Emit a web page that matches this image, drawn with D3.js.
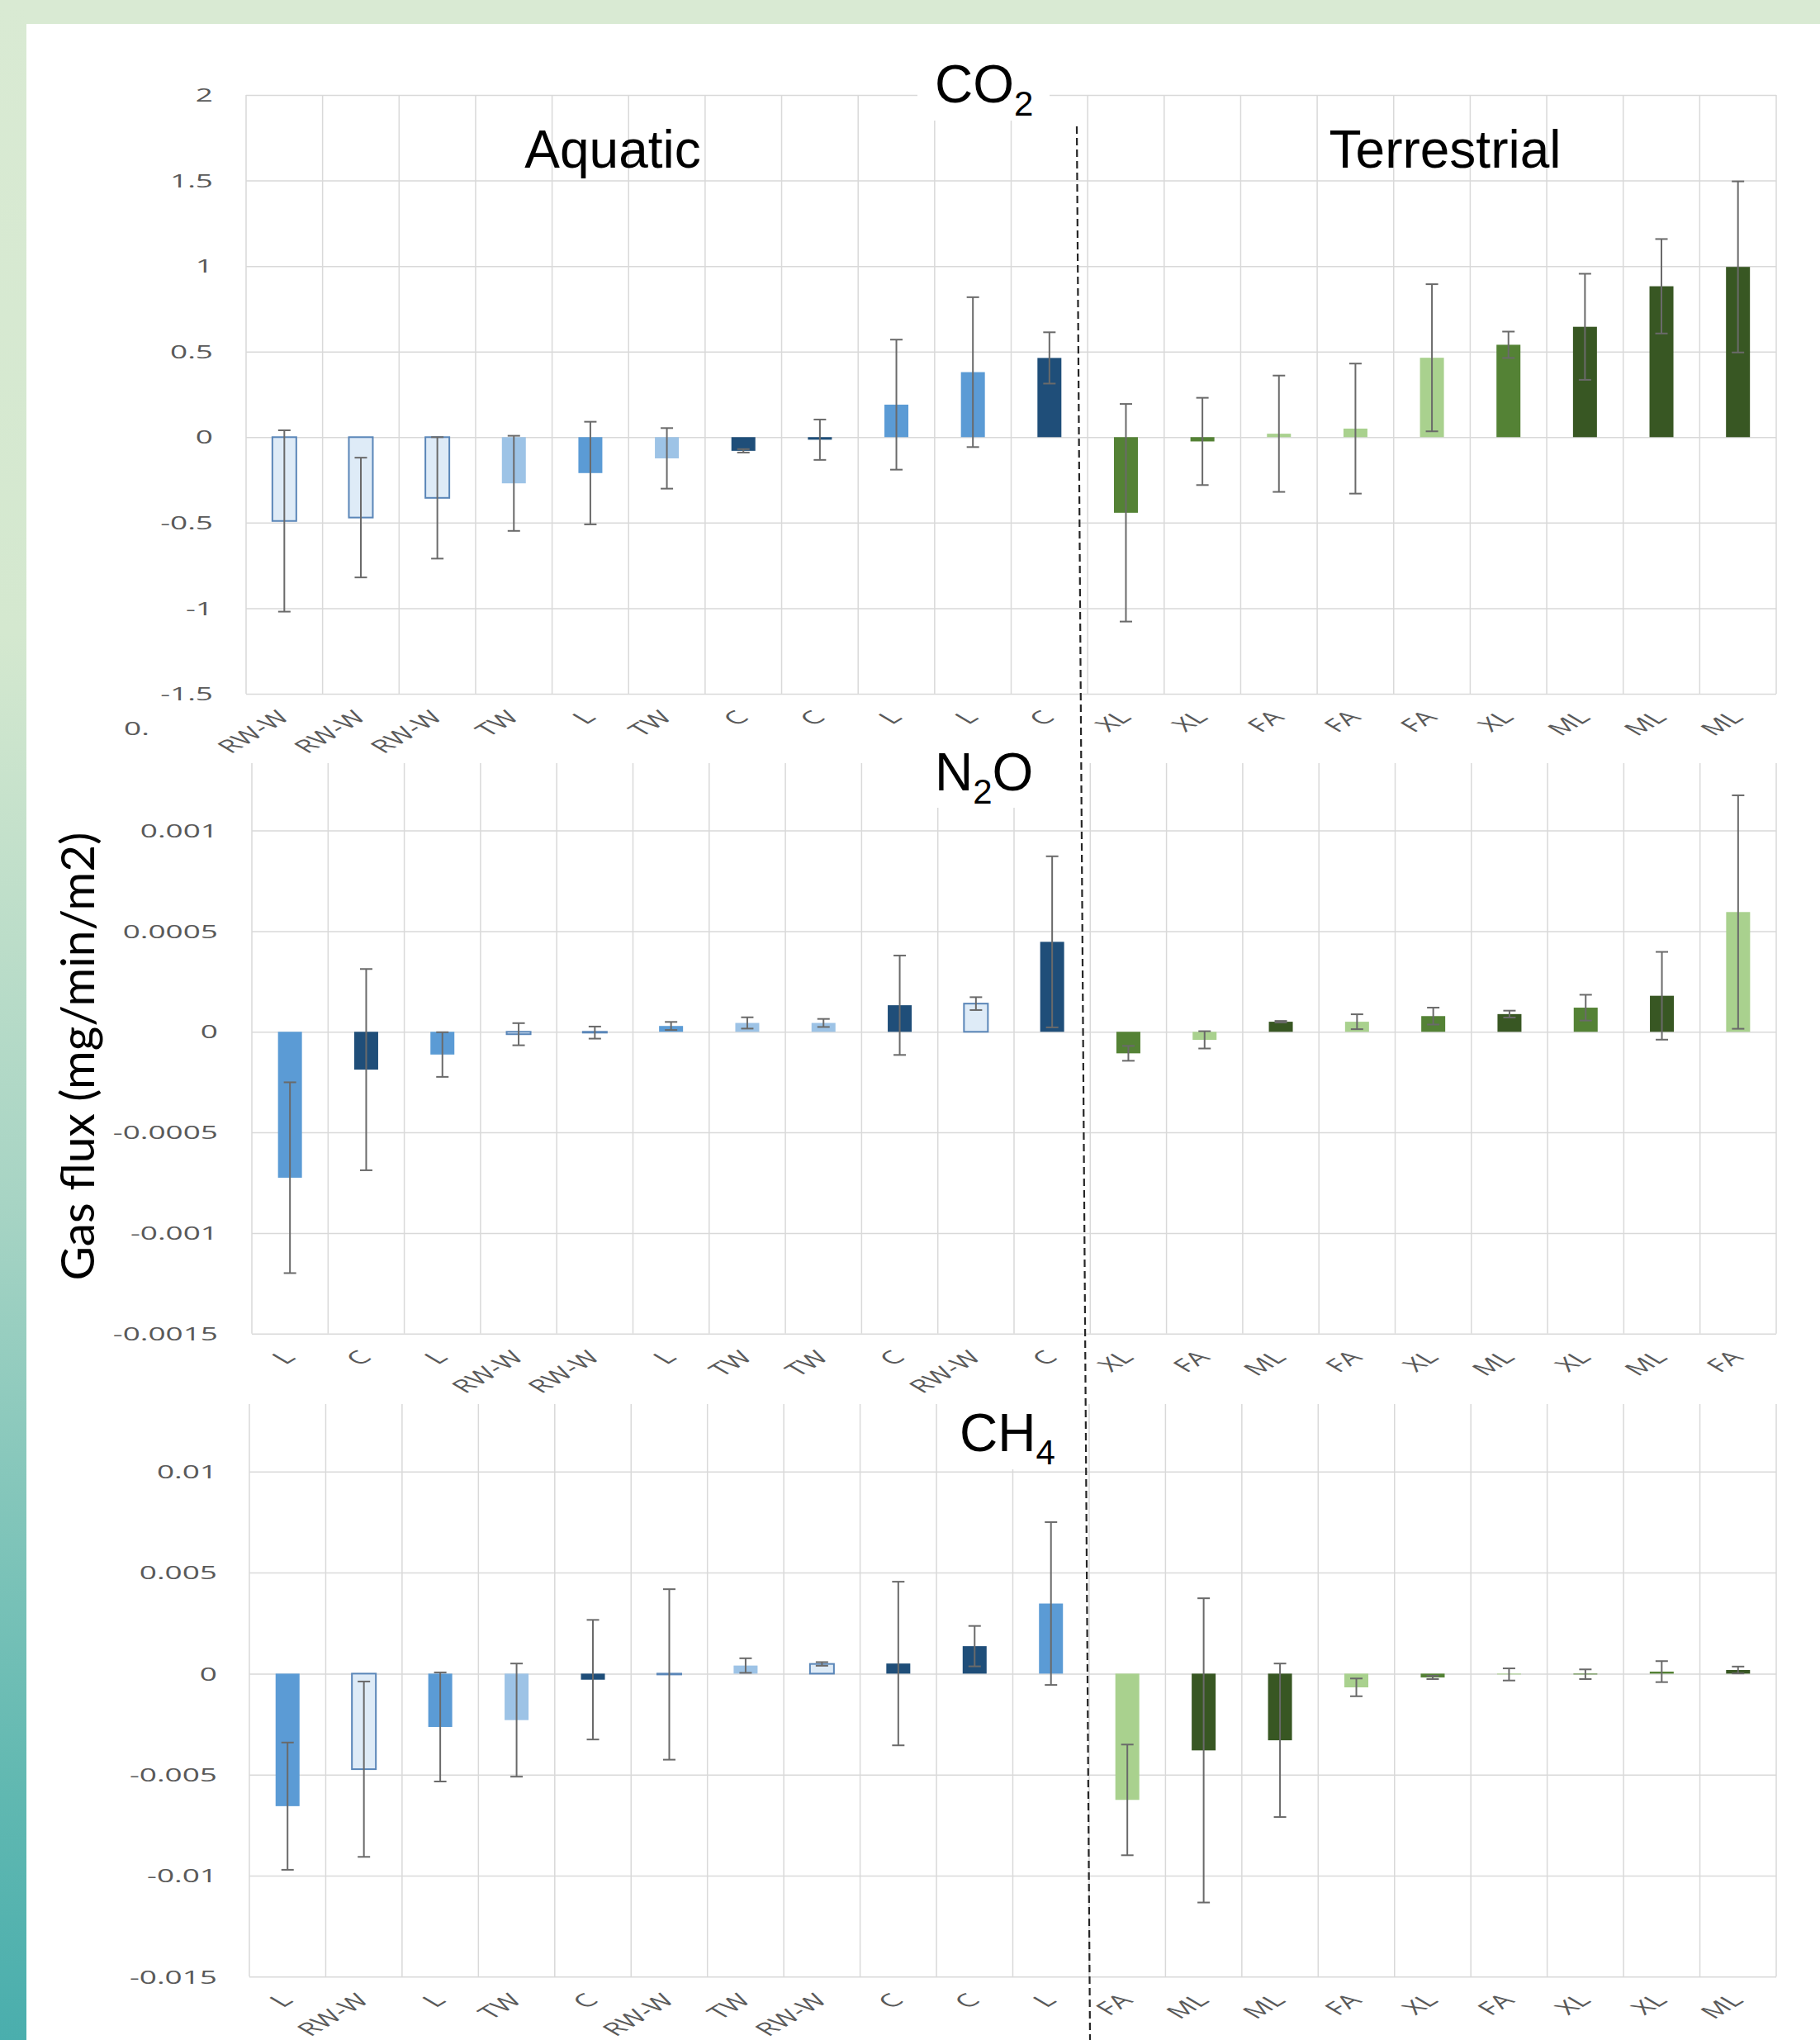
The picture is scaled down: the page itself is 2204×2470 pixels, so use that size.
<!DOCTYPE html>
<html>
<head>
<meta charset="utf-8">
<script src="https://cdn.jsdelivr.net/npm/d3@7"></script>
<style>
  body { margin: 0; background: #fff; }
  svg { display: block; }
</style>
</head>
<body>
<svg id="chart" width="2204" height="2470"></svg>
<script>
// Data: site types and flux means / error bars
var co2Labels = ['RW-W','RW-W','RW-W','TW','L','TW','C','C','L','L','C',
                 'XL','XL','FA','FA','FA','XL','ML','ML','ML'];
var co2Means = [-0.49, -0.47, -0.355, -0.27, -0.21, -0.124, -0.08, -0.015, 0.19, 0.38, 0.463,
                -0.442, -0.025, 0.02, 0.05, 0.464, 0.54, 0.645, 0.882, 0.995];
var co2Errors = [0.53, 0.35, 0.355, 0.278, 0.30, 0.177, 0.01, 0.118, 0.38, 0.438, 0.15,
                 0.636, 0.255, 0.34, 0.38, 0.43, 0.077, 0.31, 0.276, 0.5];

var n2oLabels = ['L','C','L','RW-W','RW-W','L','TW','TW','C','RW-W','C',
                 'XL','FA','ML','FA','XL','ML','XL','ML','FA'];
var n2oMeans = [-0.000725, -0.000188, -0.000113, -0.000012, -0.000004, 0.000029, 0.000044, 0.000044, 0.000132, 0.00014, 0.000447,
                -0.000107, -0.00004, 0.00005, 0.00005, 0.000078, 0.000088, 0.00012, 0.000179, 0.000595];
var n2oErrors = [0.000474, 0.0005, 0.000111, 0.000055, 0.00003, 0.00002, 0.000028, 0.00002, 0.000247, 0.000032, 0.000425,
                 0.000037, 0.000043, 0.000004, 0.000037, 0.000042, 0.000017, 0.000064, 0.000218, 0.00058];

var ch4Labels = ['L','RW-W','L','TW','C','RW-W','TW','RW-W','C','C','L',
                 'FA','ML','ML','FA','XL','FA','XL','XL','ML'];
var ch4Means = [-0.00656, -0.00473, -0.00264, -0.0023, -0.0003, -0.00004, 0.0004, 0.00048, 0.0005, 0.00136, 0.00347,
                -0.00625, -0.0038, -0.0033, -0.00068, -0.00019, -0.00004, -0.00003, 0.0001, 0.00018];
var ch4Errors = [0.00315, 0.00434, 0.0027, 0.0028, 0.00296, 0.00422, 0.00036, 0.00009, 0.00405, 0.001, 0.00403,
                 0.00274, 0.00753, 0.0038, 0.00044, 0.00008, 0.0003, 0.00024, 0.00052, 0.00017];

// Tick values and their printed labels
var co2Ticks = [-1.5, -1, -0.5, 0, 0.5, 1, 1.5, 2];
var co2TickText = ['-1.5','-1','-0.5','0','0.5','1','1.5','2'];
var n2oTicks = [-0.0015, -0.001, -0.0005, 0, 0.0005, 0.001];
var n2oTickText = ['-0.0015','-0.001','-0.0005','0','0.0005','0.001'];
var ch4Ticks = [-0.015, -0.01, -0.005, 0, 0.005, 0.01];
var ch4TickText = ['-0.015','-0.01','-0.005','0','0.005','0.01'];

// Bar style per site type
var typeFill = { 'RW-W': '#deebf7', 'TW': '#9dc3e6', 'L': '#5b9bd5', 'C': '#1f4e79',
                 'FA': '#a9d18e', 'XL': '#548235', 'ML': '#385723' };

var STRETCH = 1.68;      // the Excel labels in the figure are stretched sideways
var tickFont = "'Open Sans', 'DejaVu Sans', sans-serif";
var titleFont = "'Liberation Sans', Arial, sans-serif";
var gridColor = '#d9d9d9';
var errColor = '#6a6a6a';

var svg = d3.select('#chart');

// Background frame: green-to-teal strip on the left, green strip at top
var defs = svg.append('defs');
var grad = defs.append('linearGradient').attr('id', 'side')
  .attr('x1', 0).attr('y1', 0).attr('x2', 0).attr('y2', 1);
[[0, '#d9ead3'], [0.31, '#d4e8cf'], [0.59, '#a7d4c4'], [0.88, '#60b8b1'], [1, '#4aaead']]
  .forEach(function(s) { grad.append('stop').attr('offset', s[0]).attr('stop-color', s[1]); });

svg.append('rect').attr('width', 2204).attr('height', 29).attr('fill', '#d9ead3');
svg.append('rect').attr('width', 32).attr('height', 2470).attr('fill', 'url(#side)');
svg.append('rect').attr('x', 32).attr('y', 29).attr('width', 2172).attr('height', 2441).attr('fill', '#fff');

var panels = [
  { labels: co2Labels, means: co2Means, errs: co2Errors, ticks: co2Ticks, tickText: co2TickText,
    domain: [-1.5, 2], x0: 298, x1: 2151, yBot: 840, yTop: 115, gridTop: 115, labelRight: 258 },
  { labels: n2oLabels, means: n2oMeans, errs: n2oErrors, ticks: n2oTicks, tickText: n2oTickText,
    domain: [-0.0015, 0.001], x0: 305, x1: 2151, yBot: 1614.8, yTop: 1005.6, gridTop: 924, labelRight: 264 },
  { labels: ch4Labels, means: ch4Means, errs: ch4Errors, ticks: ch4Ticks, tickText: ch4TickText,
    domain: [-0.015, 0.01], x0: 302, x1: 2151, yBot: 2393.3, yTop: 1781.8, gridTop: 1700, labelRight: 263 }
];

panels.forEach(function(p) {
  var g = svg.append('g');
  var x = d3.scaleBand().domain(d3.range(p.labels.length)).range([p.x0, p.x1]).padding(0);
  var y = d3.scaleLinear().domain(p.domain).range([p.yBot, p.yTop]);
  var barW = 29, capW = 15;

  // vertical gridlines at band edges
  var edges = d3.range(p.labels.length + 1).map(function(i) {
    return i < p.labels.length ? x(i) : p.x1;
  });
  g.selectAll('.vgrid').data(edges).join('line')
    .attr('x1', function(d) { return d; }).attr('x2', function(d) { return d; })
    .attr('y1', p.gridTop).attr('y2', p.yBot)
    .attr('stroke', gridColor).attr('stroke-width', 1.5);

  // y axis with horizontal gridlines
  var yAxis = d3.axisLeft(y)
    .tickValues(p.ticks)
    .tickFormat(function(d, i) { return p.tickText[i]; })
    .tickSize(-(p.x1 - p.x0))
    .tickPadding(0);
  var ax = g.append('g').attr('transform', 'translate(' + p.x0 + ',0)').call(yAxis);
  ax.select('.domain').remove();
  ax.selectAll('.tick line').attr('stroke', gridColor).attr('stroke-width', 1.5);
  ax.selectAll('.tick text')
    .attr('x', 0)
    .attr('dy', '0.35em')
    .attr('text-anchor', 'end')
    .attr('transform', 'translate(' + (p.labelRight - p.x0) + ',0) scale(' + STRETCH + ',1)')
    .attr('fill', '#595959')
    .style('font-family', tickFont)
    .style('font-size', '22px');

  // bars
  g.selectAll('.bar').data(p.means).join('rect')
    .attr('x', function(d, i) { return x(i) + x.bandwidth() / 2 - barW / 2; })
    .attr('y', function(d) { return y(Math.max(0, d)); })
    .attr('width', barW)
    .attr('height', function(d) { return Math.max(1, Math.abs(y(d) - y(0))); })
    .attr('fill', function(d, i) { return typeFill[p.labels[i]]; })
    .attr('stroke', function(d, i) { return p.labels[i] === 'RW-W' ? '#5a86b8' : 'none'; })
    .attr('stroke-width', 2);

  // error bars
  var eb = g.selectAll('.err').data(p.means).join('g')
    .attr('transform', function(d, i) { return 'translate(' + (x(i) + x.bandwidth() / 2) + ',0)'; });
  eb.append('line')
    .attr('y1', function(d, i) { return y(d + p.errs[i]); })
    .attr('y2', function(d, i) { return y(d - p.errs[i]); })
    .attr('stroke', errColor).attr('stroke-width', 2);
  eb.append('line')
    .attr('x1', -capW / 2).attr('x2', capW / 2)
    .attr('y1', function(d, i) { return y(d + p.errs[i]); })
    .attr('y2', function(d, i) { return y(d + p.errs[i]); })
    .attr('stroke', errColor).attr('stroke-width', 2);
  eb.append('line')
    .attr('x1', -capW / 2).attr('x2', capW / 2)
    .attr('y1', function(d, i) { return y(d - p.errs[i]); })
    .attr('y2', function(d, i) { return y(d - p.errs[i]); })
    .attr('stroke', errColor).attr('stroke-width', 2);

  // category labels, rotated
  g.selectAll('.xlab').data(p.labels).join('text')
    .attr('text-anchor', 'end')
    .attr('transform', function(d, i) {
      return 'translate(' + (x(i) + x.bandwidth() / 2 + 8) + ',' + (p.yBot + 30) + ') scale(' + STRETCH + ',1) rotate(-45)';
    })
    .attr('fill', '#595959')
    .style('font-family', tickFont)
    .style('font-size', '22px')
    .text(function(d) { return d; });
});

// stray "0." label under the first axis
svg.append('text')
  .attr('transform', 'translate(150,890) scale(' + STRETCH + ',1)')
  .attr('fill', '#595959')
  .style('font-family', tickFont).style('font-size', '22px')
  .text('0.');

// white boxes behind the gas titles
[[1111, 55, 160, 91], [1100, 895, 170, 83], [1150, 1690, 145, 89]].forEach(function(b) {
  svg.append('rect').attr('x', b[0]).attr('y', b[1]).attr('width', b[2]).attr('height', b[3]).attr('fill', '#fff');
});

function gasTitle(x, y, a, sub, b) {
  var t = svg.append('text').attr('x', x).attr('y', y)
    .style('font-family', titleFont)
    .style('font-size', '64px').attr('fill', '#000');
  t.append('tspan').text(a);
  t.append('tspan').attr('dy', 16).style('font-size', '42px').text(sub);
  if (b) t.append('tspan').attr('dy', -16).text(b);
}
gasTitle(1132, 124, 'CO', '2', '');
gasTitle(1132, 957, 'N', '2', 'O');
gasTitle(1162, 1757, 'CH', '4', '');

svg.append('text').attr('x', 742).attr('y', 203).attr('text-anchor', 'middle')
  .style('font-family', titleFont).style('font-size', '64px')
  .text('Aquatic');
svg.append('text').attr('x', 1750).attr('y', 203).attr('text-anchor', 'middle')
  .style('font-family', titleFont).style('font-size', '64px')
  .text('Terrestrial');

// y axis title, fitted to the length seen in the figure
var yTitle = svg.append('text')
  .attr('transform', 'translate(114,1279) rotate(-90)')
  .attr('text-anchor', 'middle')
  .style('font-family', "Lato, 'Open Sans', sans-serif")
  .style('font-size', '55px')
  .text('Gas flux (mg/min/m2)');
var len = yTitle.node().getComputedTextLength();
yTitle.style('font-size', (55 * 543 / len) + 'px');

// dashed divider between aquatic and terrestrial sites
svg.append('line')
  .attr('x1', 1304).attr('y1', 153).attr('x2', 1320).attr('y2', 2470)
  .attr('stroke', '#262626').attr('stroke-width', 2.2)
  .attr('stroke-dasharray', '9,5');
</script>
</body>
</html>
